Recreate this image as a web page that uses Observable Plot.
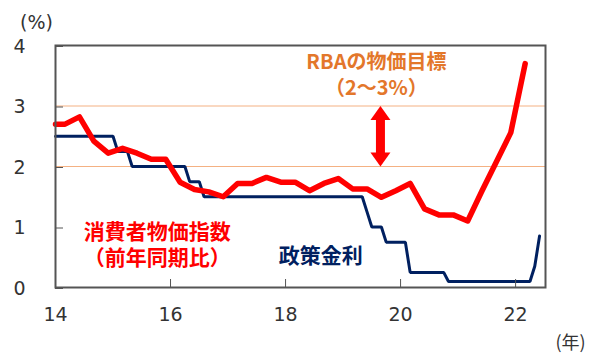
<!DOCTYPE html>
<html>
<head>
<meta charset="utf-8">
<script src="https://cdn.jsdelivr.net/npm/d3@7"></script>
<script src="https://cdn.jsdelivr.net/npm/@observablehq/plot@0.6"></script>
<style>
  body { margin: 0; background: #fff; }
  #chart { width: 600px; height: 362px; }
</style>
</head>
<body>
<div id="chart"></div>
<script>
// ---- Data ----
// Consumer price index (trimmed mean, yoy %), quarterly, plotted at quarter-end month
const cpiMonths = [
  "2014-01","2014-03","2014-06","2014-09","2014-12",
  "2015-03","2015-06","2015-09","2015-12",
  "2016-03","2016-06","2016-09","2016-12",
  "2017-03","2017-06","2017-09","2017-12",
  "2018-03","2018-06","2018-09","2018-12",
  "2019-03","2019-06","2019-09","2019-12",
  "2020-03","2020-06","2020-09","2020-12",
  "2021-03","2021-06","2021-09","2021-12",
  "2022-03"
];
const cpiValues = [
  2.70, 2.70, 2.82, 2.42, 2.22,
  2.30, 2.22, 2.12, 2.12,
  1.74, 1.62, 1.58, 1.50,
  1.72, 1.72, 1.82, 1.74,
  1.74, 1.60, 1.72, 1.80,
  1.63, 1.63, 1.49, 1.60,
  1.72, 1.30, 1.20, 1.20,
  1.10, 1.60, 2.08, 2.56,
  3.70
];
// RBA policy rate (%), monthly vertices of the step line
const rateMonths = [
  "2014-01","2015-01","2015-02","2015-04","2015-05",
  "2016-04","2016-05","2016-07","2016-08",
  "2019-05","2019-06","2019-07","2019-09","2019-10",
  "2020-02","2020-03","2020-10","2020-11",
  "2022-04","2022-05","2022-06"
];
const rateValues = [
  2.5, 2.5, 2.25, 2.25, 2.0,
  2.0, 1.75, 1.75, 1.5,
  1.5, 1.25, 1.0, 1.0, 0.75,
  0.75, 0.25, 0.25, 0.1,
  0.1, 0.35, 0.85
];
// RBA inflation target band
const targetBand = [2, 3];
// Axis ticks
const xTicks = [14, 16, 18, 20, 22];
const yTicks = [0, 1, 2, 3, 4];

// Labels
const cpiLabel = "消費者物価指数\n（前年同期比）";
const rateLabel = "政策金利";
const targetLabel = "RBAの物価目標\n（2～3%）";
const yUnit = "(%)";
const xUnit = "(年)";

// month string -> fractional year (2-digit year axis)
const toYear = s => { const [y, m] = s.split("-").map(Number); return (y - 2000) + (m - 1) / 12; };

const cpi = cpiMonths.map((m, i) => ({t: toYear(m), v: cpiValues[i]}));
const rate = rateMonths.map((m, i) => ({t: toYear(m), v: rateValues[i]}));

// annotation positions
const labelPos = {
  cpi: {t: 15.77, v: 0.73},
  rate: {t: 18.61, v: 0.51},
  target: {t: 19.58, v: 3.53},
  arrowT: 19.65
};

const headUp = { draw(ctx) { ctx.moveTo(0, 0); ctx.lineTo(10, 14); ctx.lineTo(-10, 14); ctx.closePath(); } };
const headDown = { draw(ctx) { ctx.moveTo(0, 0); ctx.lineTo(10, -14); ctx.lineTo(-10, -14); ctx.closePath(); } };

const jp = "'Noto Sans CJK JP', sans-serif";
const num = "'DejaVu Sans', sans-serif";
const fmt = d => String(d);

const chart = Plot.plot({
  width: 600,
  height: 362,
  marginLeft: 55,
  marginRight: 55,
  marginTop: 45,
  marginBottom: 75,
  style: {fontFamily: num, background: "#fff", color: "#333"},
  x: {domain: [14, 22.52], label: null},
  y: {domain: [0, 4], label: null},
  marks: [
    Plot.ruleY(targetBand, {stroke: "#F4B183", strokeWidth: 1}),
    Plot.line(rate, {x: "t", y: "v", stroke: "#002060", strokeWidth: 3, strokeLinejoin: "miter"}),
    Plot.line(cpi, {x: "t", y: "v", stroke: "#FF0000", strokeWidth: 5.5, strokeLinejoin: "round", strokeLinecap: "round"}),
    // double-headed arrow across the target band
    Plot.ruleX([labelPos.arrowT], {y1: targetBand[0] + 0.2, y2: targetBand[1] - 0.2, stroke: "#FF0000", strokeWidth: 9}),
    Plot.dot([targetBand[1]], {x: labelPos.arrowT, y: d => d, symbol: headUp, fill: "#FF0000", stroke: "none"}),
    Plot.dot([targetBand[0]], {x: labelPos.arrowT, y: d => d, symbol: headDown, fill: "#FF0000", stroke: "none"}),
    // labels
    Plot.text([cpiLabel], {x: labelPos.cpi.t, y: labelPos.cpi.v, text: d => d, fill: "#FF0000", fontSize: 21, fontWeight: "bold", fontFamily: jp, lineHeight: 1.24}),
    Plot.text([rateLabel], {x: labelPos.rate.t, y: labelPos.rate.v, text: d => d, fill: "#002060", fontSize: 21, fontWeight: "bold", fontFamily: jp}),
    Plot.text([targetLabel], {x: labelPos.target.t, y: labelPos.target.v, text: d => d, fill: "#E3772B", fontSize: 20, fontWeight: "bold", fontFamily: jp, lineHeight: 1.3}),
    Plot.text([yUnit], {frameAnchor: "top-left", textAnchor: "middle", lineAnchor: "middle", dx: -19, dy: -23, text: d => d, fontSize: 19, fill: "#333", fontFamily: num, letterSpacing: 1}),
    Plot.text([xUnit], {frameAnchor: "bottom-right", textAnchor: "middle", lineAnchor: "middle", dx: 25, dy: 56, text: d => d, fontSize: 18, fill: "#333", fontFamily: jp, letterSpacing: 2}),
    // axes with inward ticks
    Plot.axisX(xTicks, {tickSize: -8, tickPadding: 28, fontSize: 19, stroke: "#555", fill: "#333", label: null, tickFormat: fmt}),
    Plot.axisY(yTicks, {tickSize: -8, tickPadding: 38, fontSize: 19, stroke: "#555", fill: "#333", label: null, dy: 1, tickFormat: fmt}),
    Plot.frame({stroke: "#555", strokeWidth: 2})
  ]
});
document.getElementById("chart").appendChild(chart);
</script>
</body>
</html>
